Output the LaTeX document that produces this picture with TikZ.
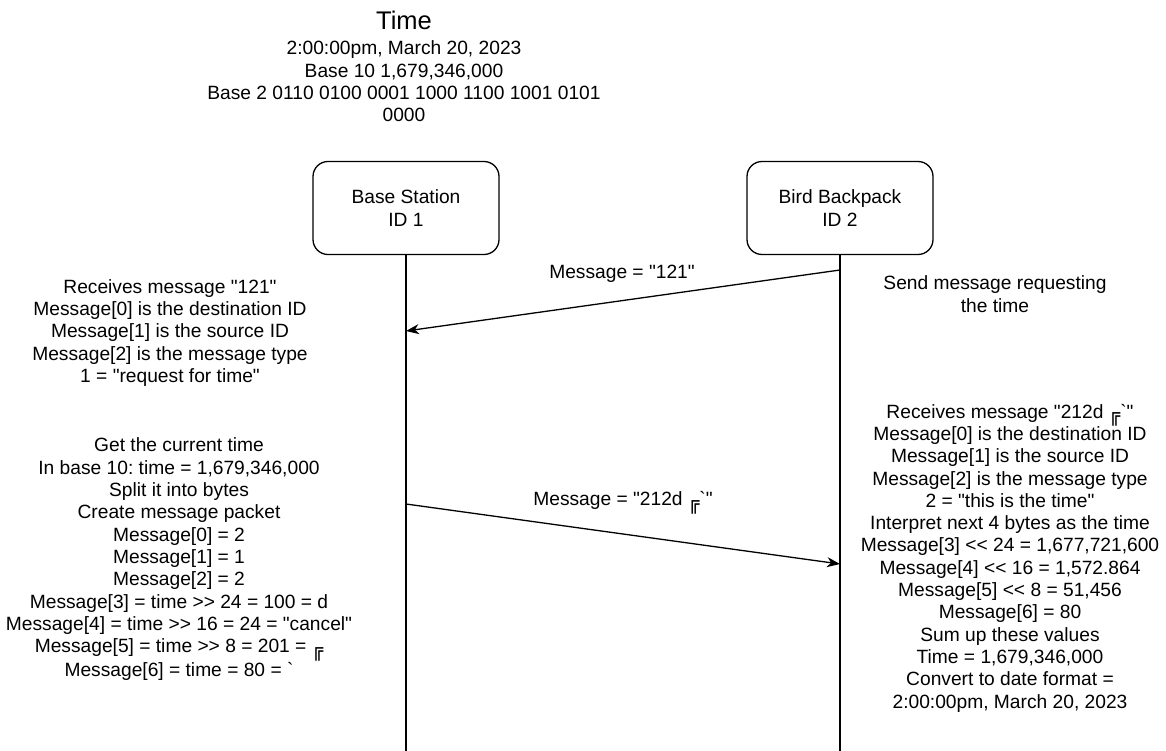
\documentclass[tikz,border=0pt]{standalone}
\usepackage{fontspec}
\setmainfont{Liberation Sans}
\newfontfamily\boxfont{DejaVu Sans}
\usetikzlibrary{arrows.meta}
% characters inserted as glyphs so that no TeX ligature mapping changes them
\newcommand\dq{\XeTeXglyph\XeTeXcharglyph"22\relax}
\newcommand\gv{\XeTeXglyph\XeTeXcharglyph"60\relax}
\newcommand\lt{\XeTeXglyph\XeTeXcharglyph"3C\relax}
\newcommand\gt{\XeTeXglyph\XeTeXcharglyph"3E\relax}
\newcommand\shl{\lt\lt}
\newcommand\shr{\gt\gt}
% box-drawing corner character used in the byte dump
\newcommand\dbox{\raisebox{-3.5pt}{\boxfont\fontsize{19}{19}\selectfont ╔}}

\tikzset{
  txt/.style={font=\fontsize{19.2}{22.3}\selectfont, align=center, inner sep=0pt},
  actor/.style={draw, rounded corners=15pt, minimum width=186pt, minimum height=93pt,
                align=center, inner sep=0pt, font=\fontsize{19.2}{23}\selectfont},
  lifeline/.style={line width=1.3pt},
  msg/.style={line width=1.3pt, -{Stealth[length=13pt,width=10pt,inset=4pt]}},
}

\begin{document}
\frenchspacing
\begin{tikzpicture}[x=1pt,y=-1pt,line width=1.3pt]
\useasboundingbox (0,0) rectangle (1166,751);

% heading
\node[txt, font=\fontsize{25.5}{30}\selectfont] (title) at (404,20) {Time};
\node[txt] (when) at (404,81.5) {2:00:00pm, March 20, 2023\\Base 10 1,679,346,000\\Base 2 0110 0100 0001 1000 1100 1001 0101\\0000};

% participants
\node[actor] (bs) at (406,208) {Base Station\\ID 1};
\node[actor] (bb) at (840,208) {Bird Backpack\\ID 2};

% lifelines
\coordinate (bsEnd) at (406,751);
\coordinate (bbEnd) at (840,751);
\draw[lifeline] (bs.south) -- (bsEnd);
\draw[lifeline] (bb.south) -- (bbEnd);

% message 1: time request
\coordinate (req0) at (840,270);
\coordinate (req1) at (406,331);
\draw[msg] (req0) -- (req1);
\node[txt] (reqLabel) at (622,274) {Message = \dq121\dq};

% message 2: time reply
\coordinate (rep0) at (406,504);
\coordinate (rep1) at (840,564);
\draw[msg] (rep0) -- (rep1);
\node[txt] (repLabel) at (623,503) {Message = \dq212d \dbox\gv\dq};

% notes beside the lifelines
\node[txt] (bsRecv) at (170,333) {Receives message \dq121\dq\\Message[0] is the destination ID\\Message[1] is the source ID\\Message[2] is the message type\\1 = \dq request for time\dq};

\node[txt] (bbSend) at (995,294) {Send message requesting\\the time};

\node[txt] (bsBuild) at (179,559) {Get the current time\\In base 10: time = 1,679,346,000\\Split it into bytes\\Create message packet\\Message[0] = 2\\Message[1] = 1\\Message[2] = 2\\Message[3] = time \shr{} 24 = 100 = d\\Message[4] = time \shr{} 16 = 24 = \dq cancel\dq\\Message[5] = time \shr{} 8 = 201 = \dbox\\Message[6] = time = 80 = \gv};

\node[txt] (bbRecv) at (1010,558) {Receives message \dq212d \dbox\gv\dq\\Message[0] is the destination ID\\Message[1] is the source ID\\Message[2] is the message type\\2 = \dq this is the time\dq\\Interpret next 4 bytes as the time\\Message[3] \shl{} 24 = 1,677,721,600\\Message[4] \shl{} 16 = 1,572.864\\Message[5] \shl{} 8 = 51,456\\Message[6] = 80\\Sum up these values\\Time = 1,679,346,000\\Convert to date format =\\2:00:00pm, March 20, 2023};
\end{tikzpicture}
\end{document}
